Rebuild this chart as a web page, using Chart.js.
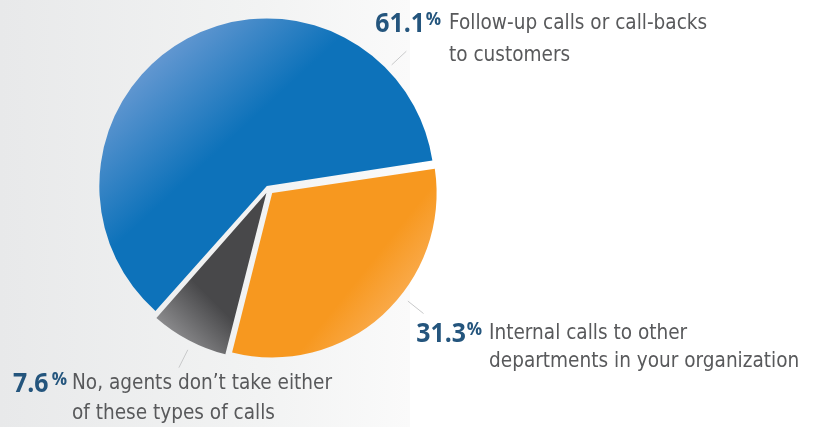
<!DOCTYPE html>
<html>
<head>
<meta charset="utf-8">
<script src="https://cdn.jsdelivr.net/npm/chart.js@4.4.1/dist/chart.umd.min.js"></script>
<style>
html, body { margin: 0; padding: 0; }
body {
    width: 814px; height: 427px; overflow: hidden; position: relative;
    background: linear-gradient(to right, #e8e9ea 0px, #f2f3f3 260px, #fafafa 410px, #ffffff 410px);
}
#wrap { position: absolute; left: 0; top: 0; width: 537px; height: 378px; }
.lab {
    position: absolute; white-space: nowrap;
    font-family: "DejaVu Sans Condensed", "Liberation Sans Narrow", sans-serif;
    font-size: 22px; color: #58595b;
}
.txt { display: inline-block; transform: scaleX(0.935); transform-origin: left center; }
.num {
    position: absolute; top: 0; white-space: nowrap;
    font-family: "Open Sans", sans-serif; font-weight: bold; color: #24557d;
}
.num .dig { display: inline-block; font-size: 27px; transform: scaleX(0.92); transform-origin: right center; }
.num .pct { font-size: 17px; vertical-align: 7px; line-height: 0; }
</style>
</head>
<body>
<div id="wrap"><canvas id="pieChart"></canvas></div>
<div id="labels"></div>
<script>
// data
const categories = [
    ['Follow-up calls or call-backs', 'to customers'],
    ['Internal calls to other', 'departments in your organization'],
    ['No, agents don\u2019t take either', 'of these types of calls']
];
const values = [61.1, 31.3, 7.6];
const valueLabels = ['61.1', '31.3', '7.6'];

// look
const baseColors = ['#0d72ba', '#f7981f', '#48484a'];
const lightColors = ['#7ea3d8', '#fcc080', '#a5a5a7'];
// gradient ends, in units of the radius from the pie centre: x0, y0, x1, y1 (light -> base)
const gradEnds = [[-0.75, -1.0, -0.15, -0.35], [1.0, 0.95, 0.5, 0.55], [-0.62, 1.0, -0.3, 0.68]];
const sliceOffsets = [14, 22, 18];
const pieRadius = 164;
const leaderAngles = [-43, 38.5, 116.6];
const labelBoxes = [
    { left: 449, top: 6, lh: 32, gap: 8, pctGap: 1 },
    { left: 489, top: 318, lh: 28, gap: 7, pctGap: 1 },
    { left: 72, top: 367, lh: 30, gap: 5, pctGap: 3 }
];

function fillFor(c) {
    let area = c.chart.chartArea;
    if (!area) return baseColors[c.dataIndex];
    let cx = (area.left + area.right) / 2, cy = (area.top + area.bottom) / 2;
    let g = gradEnds[c.dataIndex];
    let grad = c.chart.ctx.createLinearGradient(cx + g[0] * pieRadius, cy + g[1] * pieRadius,
        cx + g[2] * pieRadius, cy + g[3] * pieRadius);
    grad.addColorStop(0, lightColors[c.dataIndex]);
    grad.addColorStop(1, baseColors[c.dataIndex]);
    return grad;
}

const leaderLines = {
    id: 'leaderLines',
    afterDatasetsDraw(chart) {
        let ctx = chart.ctx;
        let meta = chart.getDatasetMeta(0);
        ctx.save();
        ctx.strokeStyle = '#c8c9ca';
        ctx.lineWidth = 1;
        meta.data.forEach(function(arc, i) {
            let p = arc.getProps(['x', 'y', 'startAngle', 'endAngle', 'outerRadius']);
            let mid = (p.startAngle + p.endAngle) / 2;
            let t = sliceOffsets[i] / 4;
            let fix = 1 - Math.sin(Math.min(Math.PI, p.endAngle - p.startAngle));
            t = t + t * fix;
            let ox = p.x + Math.cos(mid) * t, oy = p.y + Math.sin(mid) * t;
            let a = leaderAngles[i] * Math.PI / 180;
            ctx.beginPath();
            ctx.moveTo(ox + Math.cos(a) * (p.outerRadius + 9), oy + Math.sin(a) * (p.outerRadius + 9));
            ctx.lineTo(ox + Math.cos(a) * (p.outerRadius + 29), oy + Math.sin(a) * (p.outerRadius + 29));
            ctx.stroke();
        });
        ctx.restore();
    }
};

function buildLabels() {
    let holder = document.getElementById('labels');
    categories.forEach(function(lines, i) {
        let b = labelBoxes[i];
        let div = document.createElement('div');
        div.className = 'lab';
        div.style.left = b.left + 'px';
        div.style.top = b.top + 'px';
        div.style.lineHeight = b.lh + 'px';
        let num = document.createElement('span');
        num.className = 'num';
        num.style.right = 'calc(100% + ' + b.gap + 'px)';
        num.innerHTML = '<span class="dig">' + valueLabels[i] + '</span>' +
            '<span class="pct" style="margin-left:' + b.pctGap + 'px">%</span>';
        div.appendChild(num);
        let txt = document.createElement('span');
        txt.className = 'txt';
        lines.forEach(function(line, k) {
            if (k > 0) txt.appendChild(document.createElement('br'));
            txt.appendChild(document.createTextNode(line));
        });
        div.appendChild(txt);
        holder.appendChild(div);
    });
}

function managePieChart() {
    let ctx = document.getElementById('pieChart').getContext('2d');
    new Chart(ctx, {
        type: 'pie',
        data: {
            labels: categories.map(function(l) { return l.join(' '); }),
            datasets: [{
                data: values,
                backgroundColor: fillFor,
                borderWidth: 0,
                offset: sliceOffsets
            }]
        },
        options: {
            responsive: true,
            maintainAspectRatio: false,
            animation: false,
            rotation: 221.5,
            radius: pieRadius,
            layout: { padding: 0 },
            events: [],
            plugins: {
                legend: { display: false },
                tooltip: { enabled: false }
            }
        },
        plugins: [leaderLines]
    });
}

buildLabels();
managePieChart();
</script>
</body>
</html>
